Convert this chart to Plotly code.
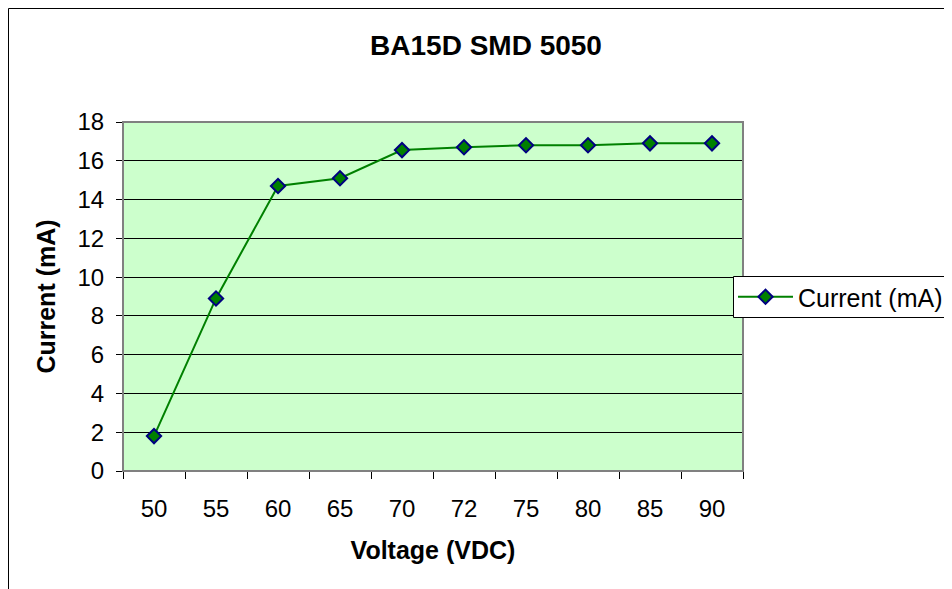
import plotly.graph_objects as go

voltage = ["50", "55", "60", "65", "70", "72", "75", "80", "85", "90"]
current = [1.8, 8.9, 14.7, 15.1, 16.55, 16.7, 16.8, 16.8, 16.9, 16.9]
y_ticks = [0, 2, 4, 6, 8, 10, 12, 14, 16, 18]

W, H = 952, 589
# page body has an 8px margin; figure pixel = reference pixel - 8
L, T = 115, 114
PR, PB = 735, 463
R, B = W - PR, H - PB
pw, ph = PR - L, PB - T

fig = go.Figure()
fig.add_trace(go.Scatter(
    x=voltage, y=current, mode="lines+markers", name="Current (mA)",
    line=dict(color="#008000", width=2),
    marker=dict(symbol="diamond", size=11, color="#008000",
                line=dict(color="#000080", width=2)),
))

def px_x(p):
    return (p - L) / pw

def px_y(p):
    return 1 - (p - T) / ph

shapes = [
    # outer chart border
    dict(type="rect", xref="paper", yref="paper", x0=px_x(0.5), x1=px_x(W + 20),
         y0=px_y(H + 20), y1=px_y(0.5), line=dict(color="#000000", width=1),
         fillcolor="rgba(0,0,0,0)", layer="below"),
    # plot area border (top / right grey)
    dict(type="rect", xref="paper", yref="paper", x0=0, x1=1, y0=0, y1=1,
         line=dict(color="#808080", width=2), fillcolor="rgba(0,0,0,0)", layer="above"),
    # legend box (runs off the right edge)
    dict(type="rect", xref="paper", yref="paper", x0=px_x(725.5), x1=px_x(W + 20),
         y0=px_y(309.5), y1=px_y(268.5), line=dict(color="#000000", width=1),
         fillcolor="white", layer="above"),
]

fig.update_layout(
    width=W, height=H,
    margin=dict(l=L, r=R, t=T, b=B, autoexpand=False),
    paper_bgcolor="white", plot_bgcolor="#CCFFCC",
    showlegend=True,
    font=dict(family="Liberation Sans, Arial", size=24, color="black"),
    title=dict(text="<b>BA15D SMD 5050</b>", x=478 / W, xref="container",
               xanchor="center", y=1 - 37 / H, yref="container", yanchor="middle",
               font=dict(size=28)),
    xaxis=dict(type="category", range=[-0.5, 9.5], tickson="boundaries",
               ticks="outside", ticklen=7, tickcolor="black",
               showline=True, linecolor="black", linewidth=1,
               showgrid=False, zeroline=False, ticklabelstandoff=16,
               tickfont=dict(size=24),
               title=dict(text="<b>Voltage (VDC)</b>", standoff=20,
                          font=dict(size=25))),
    yaxis=dict(range=[0, 18], tickvals=y_ticks, ticks="outside", ticklen=6,
               tickcolor="black", showline=True, linecolor="black", linewidth=1,
               showgrid=True, gridcolor="black", gridwidth=1, zeroline=False,
               ticklabelstandoff=7, tickfont=dict(size=24),
               title=dict(text="<b>Current (mA)</b>", standoff=14,
                          font=dict(size=25))),
    legend=dict(x=px_x(725), xanchor="left", y=px_y(289), yanchor="middle",
                borderwidth=0, bgcolor="rgba(0,0,0,0)",
                font=dict(size=25), itemwidth=55),
    shapes=shapes,
)

fig.write_html("out.html")
